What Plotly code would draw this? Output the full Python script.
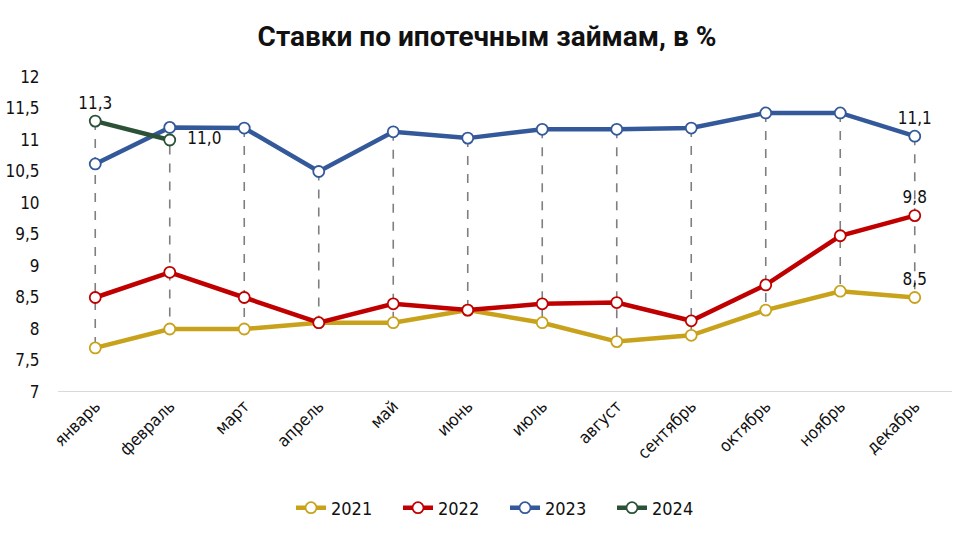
import plotly.graph_objects as go

months = ["январь", "февраль", "март", "апрель", "май", "июнь", "июль",
          "август", "сентябрь", "октябрь", "ноябрь", "декабрь"]
y2021 = [7.7, 8.0, 8.0, 8.1, 8.1, 8.3, 8.1, 7.8, 7.9, 8.3, 8.6, 8.5]
y2022 = [8.5, 8.9, 8.5, 8.1, 8.4, 8.3, 8.4, 8.42, 8.13, 8.7, 9.48, 9.8]
y2023 = [10.62, 11.2, 11.19, 10.5, 11.13, 11.03, 11.17, 11.17, 11.19, 11.43, 11.43, 11.06]
y2024 = [11.3, 11.0]
ytick_vals = [7, 7.5, 8, 8.5, 9, 9.5, 10, 10.5, 11, 11.5, 12]
ytick_text = ["7", "7,5", "8", "8,5", "9", "9,5", "10", "10,5", "11", "11,5", "12"]

FONT = "DejaVu Sans Condensed, Roboto, sans-serif"

def fmt(v):
    return f"{v:.1f}".replace(".", ",")

series = [
    ("2021", y2021, "#C9A21C", "top center", {11}),
    ("2022", y2022, "#C00000", "top center", {11}),
    ("2023", y2023, "#34599A", "top center", {11}),
    ("2024", y2024, "#2B5237", ["top center", "middle right"], {0, 1}),
]

fig = go.Figure()

# high-low dashed lines
hx, hy = [], []
for i, m in enumerate(months):
    vals = [s[1][i] for s in series if i < len(s[1])]
    hx += [m, m, None]
    hy += [max(vals), min(vals), None]
fig.add_trace(go.Scatter(x=hx, y=hy, mode="lines", showlegend=False, hoverinfo="skip",
                         line=dict(color="#7F7F7F", width=1.6, dash="dash")))

for name, vals, color, tpos, lab_idx in series:
    texts = [("  " + fmt(v) if (isinstance(tpos, list) and tpos[i] == "middle right") else fmt(v))
             if i in lab_idx else "" for i, v in enumerate(vals)]
    fig.add_trace(go.Scatter(
        x=months[:len(vals)], y=vals, name=name, mode="lines+markers+text",
        text=texts, textposition=tpos, cliponaxis=False,
        textfont=dict(family=FONT, size=17, color="#111111"),
        line=dict(color=color, width=4.5),
        marker=dict(symbol="circle", size=11, color="white",
                    line=dict(color=color, width=1.8)),
    ))

fig.update_layout(
    width=974, height=539,
    paper_bgcolor="white", plot_bgcolor="white",
    margin=dict(l=58, r=22, t=77, b=147),
    title=dict(text="<b>Ставки по ипотечным займам, в %</b>", x=0.5, xanchor="center",
               y=1 - 36 / 539, yanchor="middle", yref="container",
               font=dict(family="Roboto", size=28, color="#111111")),
    font=dict(family=FONT, size=17, color="#111111"),
    showlegend=True,
    legend=dict(orientation="h", x=0.5, xanchor="center", y=31 / 539, yanchor="middle",
                yref="container", font=dict(family=FONT, size=18), traceorder="normal",
                entrywidth=62, entrywidthmode="pixels"),
    xaxis=dict(type="category", range=[-0.5, 11.5], tickangle=-45, showgrid=False,
               showline=False, zeroline=False, ticks="", automargin=False,
               tickfont=dict(family=FONT, size=17)),
    yaxis=dict(range=[7, 12], tickvals=ytick_vals, ticktext=ytick_text, showgrid=False,
               zeroline=False, showline=False, ticks="outside", ticklen=14,
               tickcolor="rgba(0,0,0,0)", automargin=False,
               tickfont=dict(family=FONT, size=17)),
    shapes=[dict(type="line", xref="paper", yref="y", x0=0, x1=1, y0=7, y1=7,
                 line=dict(color="#D9D9D9", width=2), layer="below")],
)

fig.write_html("out.html")
